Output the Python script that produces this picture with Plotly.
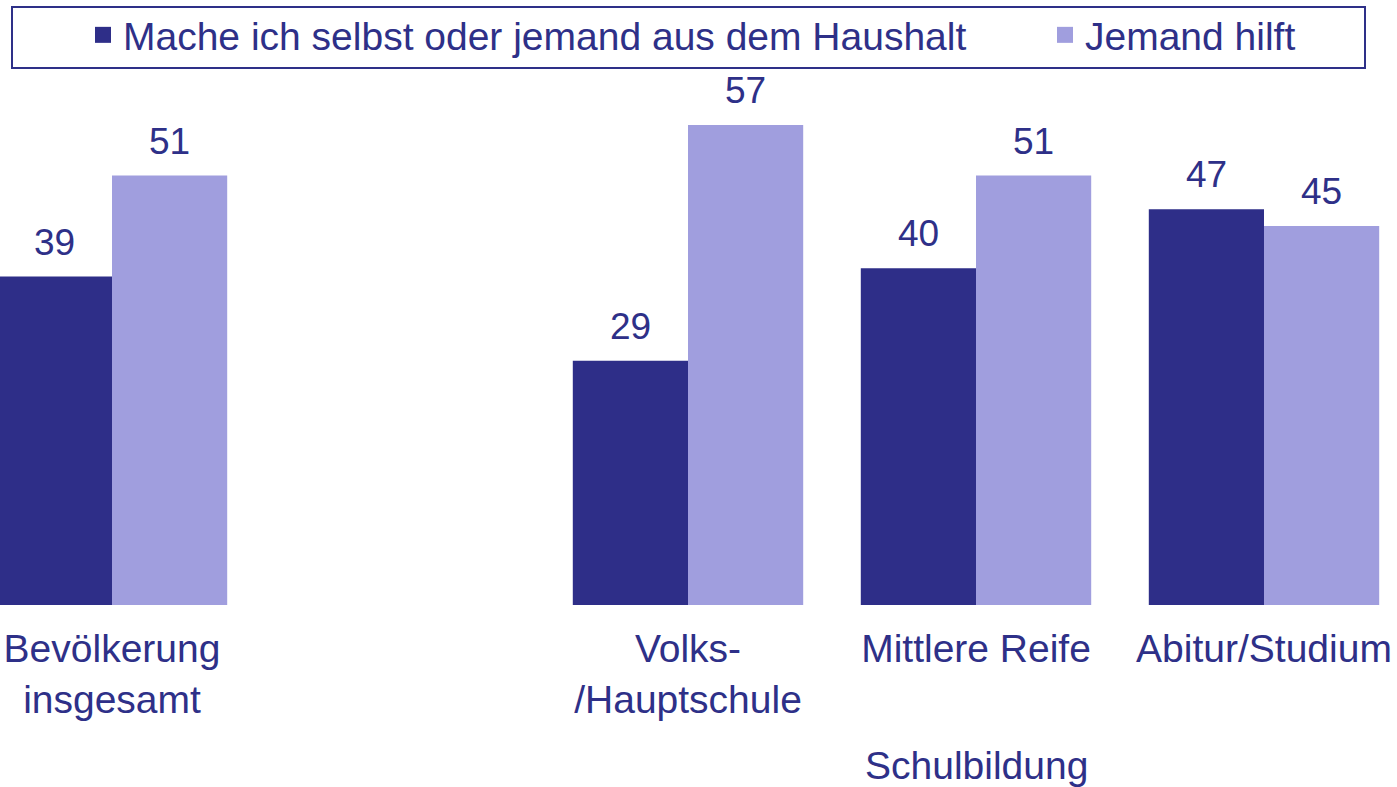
import plotly.graph_objects as go

categories = ["Bevölkerung<br>insgesamt", "Volks-<br>/Hauptschule", "Mittlere Reife", "Abitur/Studium"]
positions = [0, 2, 3, 4]
selbst = [39, 29, 40, 47]
hilft = [51, 57, 51, 45]
series_names = ["Mache ich selbst oder jemand aus dem Haushalt", "Jemand hilft"]
axis_title = "Schulbildung"

DARK = "#2E2E88"
LIGHT = "#A09EDE"
TEXT = "#2E3088"
FONT = "Liberation Sans, Arial, sans-serif"
FS = 39
LFS = 37

fig = go.Figure()
legends = ["legend", "legend2"]
for name, vals, col, lg in [(series_names[0], selbst, DARK, legends[0]),
                            (series_names[1], hilft, LIGHT, legends[1])]:
    fig.add_trace(go.Bar(x=positions, y=vals, name=name, marker=dict(color=col, line=dict(width=0)),
                         showlegend=False))
    fig.add_trace(go.Scatter(x=[None], y=[None], mode="markers", name=name, legend=lg,
                             marker=dict(symbol="square", size=16, color=col)))

# data labels
offsets = [-0.2, 0.2]
for off, vals in zip(offsets, [selbst, hilft]):
    for p, v in zip(positions, vals):
        fig.add_annotation(x=p + off, y=v, text=str(v), showarrow=False, yanchor="bottom",
                           yshift=12, font=dict(size=LFS, color=TEXT, family=FONT))

fig.add_annotation(x=3, y=-0.305, xref="x", yref="paper", text=axis_title, showarrow=False,
                   yanchor="middle", font=dict(size=FS, color=TEXT, family=FONT))

# legend frame
fig.add_shape(type="rect", xref="paper", yref="paper",
              x0=12 / 1397, x1=1365 / 1397, y0=(605 - 68) / 525, y1=(605 - 7) / 525,
              line=dict(color=TEXT, width=2), fillcolor="rgba(0,0,0,0)")

legend_common = dict(orientation="h", xanchor="left", yref="container", y=1 - 35 / 787,
                     yanchor="middle", bgcolor="rgba(0,0,0,0)", borderwidth=0,
                     font=dict(size=FS, color=TEXT, family=FONT))

fig.update_layout(
    width=1397, height=787,
    margin=dict(l=0, r=0, t=80, b=182, autoexpand=False),
    paper_bgcolor="white", plot_bgcolor="white",
    barmode="group", bargap=0.2, bargroupgap=0,
    font=dict(family=FONT, size=FS, color=TEXT),
    showlegend=True,
    legend=dict(x=83 / 1397, **legend_common),
    legend2=dict(x=1045 / 1397, **legend_common),
    xaxis=dict(range=[-112 / 288, (1397 - 112) / 288], tickvals=positions, ticktext=categories,
               showgrid=False, zeroline=False, showline=False, ticks="", automargin=False,
               ticklabelstandoff=17,
               tickfont=dict(size=FS, color=TEXT, family=FONT)),
    yaxis=dict(range=[0, 525 / 8.42], visible=False, showgrid=False, zeroline=False),
)

fig.write_html("out.html", config={"displayModeBar": False},
               post_script="document.body.style.margin='0px';")
